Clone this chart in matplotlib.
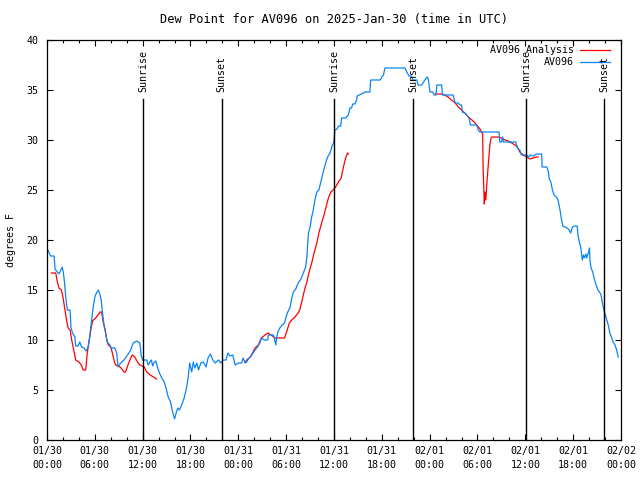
import numpy as np
import pandas as pd
import matplotlib
matplotlib.use("Agg")
import matplotlib.pyplot as plt
import matplotlib.dates as mdates

# hours after 2025-01-30 00:00 UTC
obs_hours = [0.0, 0.45, 0.9, 1.0, 1.3, 1.5, 1.8, 1.9, 2.05, 2.2, 2.35, 2.55, 2.9, 3.0, 3.2, 3.5, 3.6, 3.9,
             4.1, 4.35, 4.65, 4.9, 5.15, 5.35, 5.55, 5.8, 6.0, 6.2, 6.45, 6.65, 6.8, 6.95, 7.15, 7.35,
             7.55, 7.9, 8.0, 8.5, 8.75, 8.9, 9.25, 9.65, 10.1, 10.5, 10.8, 11.25, 11.65, 11.8, 12.0,
             12.5, 12.7, 12.9, 13.1, 13.25, 13.4, 13.65, 13.85, 14.1, 14.4, 14.7, 14.9, 15.2, 15.5,
             15.7, 16.0, 16.2, 16.4, 16.6, 16.9, 17.2, 17.5, 17.7, 17.9, 18.15, 18.35, 18.55, 18.8,
             19.0, 19.3, 19.6, 19.95, 20.2, 20.5, 20.8, 21.1, 21.5, 21.8, 22.1, 22.45, 22.7, 22.95,
             23.3, 23.6, 24.0, 24.4, 24.6, 24.85, 25.05, 25.25, 25.6, 26.1, 26.4, 26.7, 26.9, 27.25,
             27.7, 27.75, 28.4, 28.5, 28.7, 28.8, 28.95, 29.2, 29.5, 29.8, 29.95, 30.2, 30.5, 30.7,
             30.9, 31.2, 31.5, 31.85, 32.15, 32.45, 32.6, 32.7, 32.8, 33.0, 33.2, 33.4, 33.6, 33.85,
             34.1, 34.4, 34.65, 34.95, 35.2, 35.5, 35.8, 35.95, 36.05, 36.1, 36.4, 36.55, 36.85,
             36.95, 37.4, 37.6, 37.8, 38.0, 38.2, 38.35, 38.6, 38.85, 38.9, 39.7, 39.9, 40.5, 40.6,
             41.8, 42.0, 42.2, 42.4, 44.9, 45.2, 45.4, 45.7, 45.9, 46.4, 46.55, 47.0, 47.4, 47.7,
             47.85, 47.95, 48.05, 48.4, 48.55, 48.8, 48.9, 49.5, 49.6, 50.95, 51.2, 51.6, 51.8, 52.0,
             52.1, 52.4, 52.65, 52.85, 53.0, 53.1, 53.9, 54.1, 54.3, 56.7, 56.8, 57.0, 57.15, 57.25,
             58.8, 59.0, 59.3, 59.5, 60.15, 60.4, 60.6, 61.0, 61.4, 62.05, 62.1, 62.7, 62.9, 63.0,
             63.2, 63.4, 63.6, 63.9, 64.1, 64.35, 64.55, 64.7, 64.95, 65.25, 65.5, 65.7, 65.9, 66.2,
             66.5, 66.6, 66.8, 66.95, 67.15, 67.3, 67.4, 67.6, 67.7, 67.9, 68.05, 68.1, 68.25, 68.45,
             68.6, 68.8, 69.1, 69.3, 69.5, 69.65, 69.85, 70.1, 70.4, 70.6, 70.8, 71.0, 71.25, 71.45,
             71.65]
obs_dewpt = [19.2, 18.4, 18.4, 17.1, 16.8, 16.6, 17.1, 17.3, 16.8, 15.7, 14.3, 13.0, 13.0, 11.3, 10.7,
             10.3, 9.4, 9.4, 9.8, 9.3, 9.2, 8.9, 9.3, 10.3, 11.7, 13.3, 14.3, 14.7, 15.0, 14.5, 14.0,
             12.8, 11.5, 10.7, 9.8, 9.5, 9.2, 9.2, 8.7, 7.3, 7.7, 8.0, 8.5, 9.0, 9.7, 9.9, 9.7, 8.5,
             8.0, 8.0, 7.5, 7.8, 8.0, 7.4, 7.7, 7.9, 7.3, 6.7, 6.2, 5.8, 5.3, 4.3, 3.8, 3.0, 2.1, 2.7,
             3.2, 3.0, 3.5, 4.2, 5.2, 6.2, 7.7, 6.8, 7.8, 7.2, 7.7, 7.0, 7.7, 7.8, 7.3, 8.2, 8.6, 8.0,
             7.7, 8.0, 7.7, 8.0, 8.0, 8.7, 8.4, 8.5, 7.5, 7.7, 7.7, 8.2, 7.7, 7.8, 8.1, 8.4, 9.0, 9.3,
             9.7, 10.2, 10.0, 10.0, 10.5, 10.5, 10.2, 9.5, 10.2, 10.8, 11.2, 11.5, 11.7, 12.2, 12.8,
             13.3, 14.2, 14.8, 15.1, 15.7, 16.1, 16.7, 17.3, 18.3, 19.7, 20.7, 21.3, 22.3, 23.0, 24.0,
             24.8, 25.0, 26.0, 26.8, 27.7, 28.3, 28.7, 29.5, 29.7, 30.3, 31.0, 31.1, 31.4, 31.4, 32.2,
             32.2, 32.3, 32.5, 33.2, 33.2, 33.6, 33.6, 34.0, 34.4, 34.7, 34.8, 34.8, 36.0, 36.0, 36.3,
             36.5, 37.2, 37.2, 36.7, 36.4, 36.4, 36.0, 36.0, 35.5, 35.5, 36.0, 36.3, 36.0, 35.3, 34.8,
             34.8, 34.5, 34.5, 35.5, 35.5, 34.5, 34.5, 33.7, 33.7, 33.5, 33.5, 32.8, 32.7, 32.5, 32.3,
             32.0, 31.5, 31.5, 31.0, 30.8, 30.8, 29.8, 29.8, 30.3, 29.8, 29.8, 29.2, 29.0, 28.5, 28.5,
             28.3, 28.5, 28.4, 28.6, 28.6, 27.3, 27.3, 26.8, 26.1, 25.8, 25.0, 24.5, 24.3, 24.0, 23.0,
             22.0, 21.4, 21.3, 21.2, 21.0, 20.7, 21.3, 21.4, 21.4, 20.5, 19.7, 19.3, 18.0, 18.5, 18.2,
             18.6, 18.2, 18.7, 19.2, 18.0, 17.2, 16.8, 16.3, 15.7, 15.0, 14.8, 14.5, 13.8, 13.0, 12.3,
             11.5, 10.7, 10.3, 9.8, 9.5, 9.0, 8.3]

# analysis series, NaN marks the gaps
ana_hours = [0.55, 1.1, 1.3, 1.5, 1.8, 2.0, 2.25, 2.45, 2.65, 2.9, 3.1, 3.3, 3.5, 3.6, 4.0, 4.3, 4.55,
             4.85, 5.05, 5.3, 5.5, 5.7, 6.1, 6.4, 6.65, 6.85, 7.05, 7.3, 7.5, 7.7, 8.0, 8.2, 8.4, 8.6,
             9.0, 9.3, 9.65, 9.85, 10.15, 10.5, 10.7, 11.0, 11.35, 11.65, 11.95, 12.2, 12.5, 12.95,
             13.35, 13.75, 19.0,
             24.85, 25.05, 25.5, 26.1, 26.5, 26.9, 27.35, 27.7, 28.1, 28.6, 29.8, 30.05, 30.4, 30.7,
             31.1, 31.5, 31.7, 31.95, 32.3, 32.6, 32.85, 33.2, 33.5, 33.85, 34.1, 34.45, 34.75, 35.0,
             35.3, 35.6, 35.9, 36.2, 36.55, 36.9, 37.05, 37.3, 37.5, 37.7, 37.8, 43.0,
             48.7, 49.5, 49.9, 50.3, 50.75, 51.2, 51.6, 52.0, 52.4, 52.85, 53.3, 53.7, 54.1, 54.4,
             54.65, 54.7, 54.8, 54.85, 54.95, 55.05, 55.2, 55.4, 55.55, 55.7, 55.8, 56.6, 57.0, 57.45,
             57.85, 58.3, 58.7, 59.0, 59.3, 59.75, 60.15, 60.6, 61.0, 61.35, 61.6]
ana_dewpt = [16.7, 16.7, 15.8, 15.2, 15.0, 14.3, 13.0, 12.0, 11.2, 11.0, 10.0, 9.2, 8.4, 8.0, 7.8, 7.5,
             7.0, 7.0, 8.7, 10.0, 11.0, 11.9, 12.2, 12.5, 12.8, 12.8, 11.8, 11.0, 10.0, 9.5, 9.3, 8.7,
             8.0, 7.5, 7.4, 7.2, 6.8, 6.8, 7.5, 8.2, 8.5, 8.3, 7.8, 7.5, 7.4, 7.3, 6.8, 6.5, 6.3, 6.1,
             np.nan,
             7.8, 8.0, 8.3, 9.2, 9.5, 10.2, 10.5, 10.7, 10.5, 10.2, 10.2, 10.8, 11.7, 12.0, 12.3, 12.7,
             13.0, 13.8, 15.0, 15.8, 16.7, 17.7, 18.7, 19.7, 20.7, 21.7, 22.5, 23.3, 24.2, 24.8, 25.0,
             25.3, 25.8, 26.2, 26.8, 27.7, 28.3, 28.7, 28.6, np.nan,
             34.6, 34.6, 34.5, 34.3, 34.0, 33.7, 33.3, 33.0, 32.7, 32.3, 32.0, 31.7, 31.3, 31.0, 30.6,
             27.3, 24.7, 23.6, 24.8, 24.0, 26.0, 28.0, 29.5, 30.2, 30.3, 30.3, 30.2, 30.0, 29.9, 29.7,
             29.5, 29.3, 28.8, 28.5, 28.3, 28.1, 28.2, 28.3, 28.3]

sun_hours = [12.07, 21.9, 36.05, 45.95, 60.07, 69.92]
sun_names = ["Sunrise", "Sunset", "Sunrise", "Sunset", "Sunrise", "Sunset"]

start = pd.Timestamp("2025-01-30 00:00")
obs_time = start + pd.to_timedelta(obs_hours, unit="h")
ana_time = start + pd.to_timedelta(ana_hours, unit="h")
sun_time = start + pd.to_timedelta(sun_hours, unit="h")

plt.rcParams["font.family"] = "DejaVu Sans Mono"
plt.rcParams["font.size"] = 7.2

fig = plt.figure(figsize=(6.4, 4.8), dpi=100)
ax = fig.add_axes([47 / 640, 40 / 480, 574 / 640, 400 / 480])

ax.plot(ana_time, ana_dewpt, color="#ff0000", lw=0.9)
ax.plot(obs_time, obs_dewpt, color="#0a84f5", lw=0.9)

for t, name in zip(sun_time, sun_names):
    ax.plot([t, t], [0, 34.1], color="black", lw=1.0)
    ax.text(t, 34.8, name, rotation=90, ha="center", va="bottom")

ax.set_xlim(start, start + pd.Timedelta(hours=72))
ax.set_ylim(0, 40)
ax.set_yticks(range(0, 41, 5))
ax.xaxis.set_major_locator(mdates.HourLocator(byhour=[0, 6, 12, 18]))
ax.xaxis.set_minor_locator(mdates.HourLocator(interval=2))
ax.xaxis.set_major_formatter(mdates.DateFormatter("%m/%d\n%H:%M"))
ax.tick_params(which="both", direction="in", top=True, right=True, width=0.8)
ax.tick_params(which="major", length=4.5)
ax.tick_params(which="minor", length=2.2)
ax.tick_params(axis="x", pad=4)
ax.tick_params(axis="y", pad=6)
for lab in ax.get_xticklabels():
    lab.set_linespacing(1.55)
for s in ax.spines.values():
    s.set_linewidth(0.9)

ax.set_ylabel("degrees F", labelpad=8)
ax.set_title("Dew Point for AV096 on 2025-Jan-30 (time in UTC)", pad=12.5)

# gnuplot style key, text right aligned before the sample line
ax.text(0.918, 0.976, "AV096 Analysis", transform=ax.transAxes, ha="right", va="center")
ax.plot([0.929, 0.981], [0.976, 0.976], color="#ff0000", lw=0.9, transform=ax.transAxes)
ax.text(0.918, 0.944, "AV096", transform=ax.transAxes, ha="right", va="center")
ax.plot([0.929, 0.981], [0.944, 0.944], color="#0a84f5", lw=0.9, transform=ax.transAxes)

fig.savefig("out.png", dpi=100)
